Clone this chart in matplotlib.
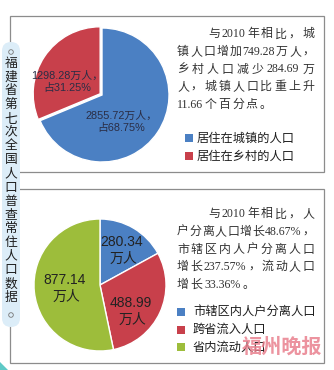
import re
import matplotlib
matplotlib.use("Agg")
import matplotlib.pyplot as plt
from matplotlib.patches import FancyBboxPatch, Rectangle, Circle, Polygon
import numpy as np

W, H = 334, 370

# Urban / rural residents (万人)
residence_labels = ["居住在城镇的人口", "居住在乡村的人口"]
residence_values = [2855.72, 1298.28]
residence_shares = [68.75, 31.25]

# Separated-household and migrant population (万人)
migrant_labels = ["市辖区内人户分离人口", "跨省流入人口", "省内流动人口"]
migrant_values = [280.34, 488.99, 877.14]

title_text = "福建省第七次全国人口普查常住人口数据"

note_top = [
    "与 2010 年相比，城",
    "镇人口增加749.28万人，",
    "乡村人口减少 284.69 万",
    "人，城镇人口比重上升",
    "11.66个百分点。",
]
note_bottom = [
    "与 2010 年相比，人",
    "户分离人口增长48.67%，",
    "市辖区内人户分离人口",
    "增长 237.57%，流动人口",
    "增长33.36%。",
]

BLUE = "#4b80c3"
RED = "#c8404b"
GREEN = "#9dbd3b"
BORDER = "#8c8c8c"
CJK = "Noto Sans CJK SC"
SERIF_MIX = ["Liberation Serif", CJK]
SANS_MIX = ["Liberation Sans", CJK]


def Y(y):
    """Image-style y (down from top) to data y."""
    return H - y


fig = plt.figure(figsize=(W / 100, H / 100), dpi=100)
fig.patch.set_facecolor("white")
ax = fig.add_axes([0, 0, 1, 1])

# frames of the two panels
ax.add_patch(Rectangle((9.5, Y(172)), 314.5, 156.5, fill=False,
                       edgecolor=BORDER, lw=0.9, zorder=1))
ax.add_patch(Rectangle((10, Y(363)), 314, 174, fill=False,
                       edgecolor=BORDER, lw=0.9, zorder=1))

# vertical title strip
ax.add_patch(FancyBboxPatch((2, Y(327)), 18, 285,
                            boxstyle="round,pad=0,rounding_size=9",
                            facecolor="#dcedf8", edgecolor="none", zorder=2))
for cy in (52, 315):
    ax.add_patch(Circle((11, Y(cy)), 2.3, fill=False, edgecolor="#777777",
                        lw=0.6, zorder=3))
for i, ch in enumerate(title_text):
    ax.text(11, Y(63 + 13.8 * i), ch, ha="center", va="center",
            fontsize=9.2, family=CJK, color="#1e1e1e", zorder=3)

# corner accent
ax.add_patch(Polygon([(0, Y(362)), (8, Y(370)), (0, Y(370))],
                     closed=True, facecolor="#5ec9c6", edgecolor="none"))

# pie 1: urban vs rural
w1, _ = ax.pie(residence_values, colors=[BLUE, RED], startangle=90,
               counterclock=False, center=(102, Y(95)), radius=67,
               wedgeprops=dict(edgecolor="white", linewidth=1.0), frame=True)
red = w1[1]
mid = np.deg2rad((red.theta1 + red.theta2) / 2)
cx, cy = red.center
red.set_center((cx + 2.2 * np.cos(mid), cy + 2.2 * np.sin(mid)))

pie1_text_pos = [(121, 116), (67, 76)]
for (tx, ty), v, p in zip(pie1_text_pos, residence_values, residence_shares):
    ax.text(tx, Y(ty), f"{v:.2f}万人，", ha="center", va="center",
            fontsize=7.8, family=SANS_MIX, color="#2a2d45")
    ax.text(tx, Y(ty + 12), f"占{p:.2f}%", ha="center", va="center",
            fontsize=7.8, family=SANS_MIX, color="#2a2d45")

# pie 2: migrant population
ax.pie(migrant_values, colors=[BLUE, RED, GREEN], startangle=90,
       counterclock=False, center=(100, Y(285)), radius=66,
       wedgeprops=dict(edgecolor="white", linewidth=1.0), frame=True)

pie2_text_pos = [(122, 242), (131, 303), (65, 280)]
for (tx, ty), v in zip(pie2_text_pos, migrant_values):
    ax.text(tx, Y(ty), f"{v:.2f}", ha="center", va="center",
            fontsize=10, family=SANS_MIX, color="#222222")
    ax.text(tx + 1, Y(ty + 17), "万人", ha="center", va="center",
            fontsize=10, family=CJK, color="#222222")

# legends
for i, (lab, col) in enumerate(zip(residence_labels, [BLUE, RED])):
    yc = 138 + 18 * i
    ax.add_patch(Rectangle((185, Y(yc) - 4), 8, 8, facecolor=col,
                           edgecolor="none"))
    ax.text(197, Y(yc), lab, ha="left", va="center", fontsize=8.8,
            family=CJK, color="#1e1e1e")
for i, (lab, col) in enumerate(zip(migrant_labels, [BLUE, RED, GREEN])):
    yc = 312 + 17.5 * i
    ax.add_patch(Rectangle((177, Y(yc) - 4), 8, 8, facecolor=col,
                           edgecolor="none"))
    ax.text(193, Y(yc), lab, ha="left", va="center", fontsize=8.8,
            family=CJK, color="#1e1e1e", zorder=4)

# justified notes
renderer = fig.canvas.get_renderer()
TOKEN = re.compile(r"[0-9A-Za-z.%]+|\s+|.")


def draw_line(line, x0, x1, yc, justify):
    tokens = [t for t in TOKEN.findall(line) if not t.isspace()]
    base = Y(yc + 4.3)
    texts = [ax.text(0, base, t, ha="left", va="baseline", fontsize=8.6,
                     family=SERIF_MIX, color="#333333") for t in tokens]
    widths = [t.get_window_extent(renderer).width for t in texts]
    if justify and len(tokens) > 1:
        gap = (x1 - x0 - sum(widths)) / (len(tokens) - 1)
    else:
        gap = 1.8
    x = x0
    for t, w in zip(texts, widths):
        t.set_x(x)
        x += w + gap


def draw_note(lines, top):
    for i, line in enumerate(lines):
        x0 = 208 if i == 0 else 177
        draw_line(line, x0, 314, top + 17.6 * i, justify=i < len(lines) - 1)


draw_note(note_top, 33)
draw_note(note_bottom, 213)

# newspaper mark
ax.text(282, Y(346), "福州晚报", ha="center", va="center", fontsize=14.5,
        family=CJK, fontweight="bold", color="#e9808e", alpha=0.85, zorder=6)

ax.set_xlim(0, W)
ax.set_ylim(0, H)
ax.set_aspect("auto")
ax.axis("off")

fig.savefig("out.png", dpi=100, facecolor="white")
